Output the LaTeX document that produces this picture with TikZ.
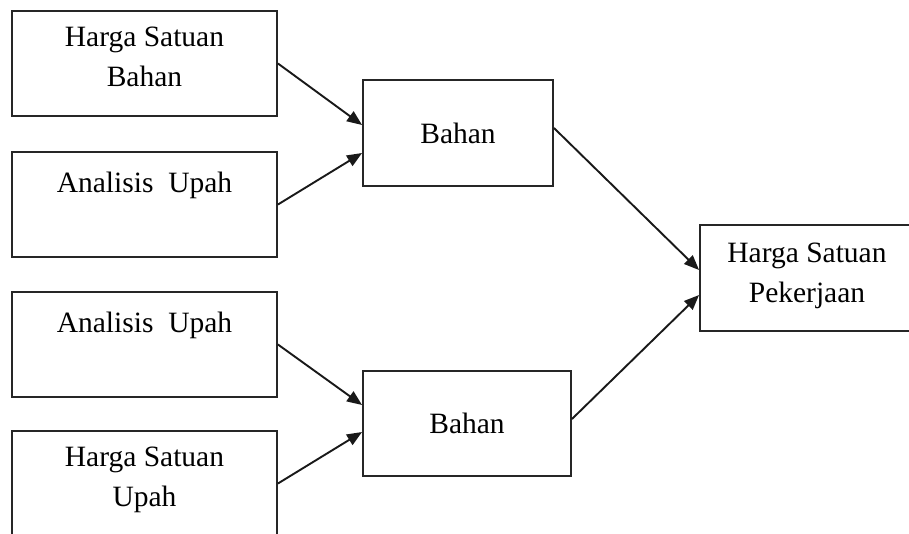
\documentclass[tikz,border=0pt]{standalone}
\usepackage{fontspec}
\setmainfont{Liberation Serif}
\usetikzlibrary{arrows.meta}
\begin{document}
\begin{tikzpicture}[x=1pt,y=-1pt,
  box/.style={draw=black!85, line width=1.9pt, minimum height=105pt, inner sep=0pt, font=\fontsize{29.5}{40}\selectfont},
  lbl/.style={inner sep=0pt, align=center, anchor=north, font=\fontsize{29.5}{40}\selectfont},
  conn/.style={line width=1.9pt, draw=black!90, -{Triangle[length=15pt,width=12pt]}}]
\clip (0,0) rectangle (909,533);
\fill[white] (0,0) rectangle (909,533);
% boxes
\node[box, minimum width=265pt] (b1) at (144.5,63.5) {};
\node[box, minimum width=265pt] (b2) at (144.5,204.5) {};
\node[box, minimum width=265pt] (b3) at (144.5,344.5) {};
\node[box, minimum width=265pt] (b4) at (144.5,483.5) {};
\node[box, minimum width=190pt, minimum height=106pt] (b5) at (458,133) {Bahan};
\node[box, minimum width=208pt] (b6) at (467,423.5) {Bahan};
\node[box, minimum width=214pt, minimum height=106pt] (b7) at (807,278) {};
% labels
\node[lbl] (t1) at ([yshift=-16.5pt]b1.north) {Harga Satuan\\Bahan};
\node[lbl] (t2) at ([yshift=-21pt]b2.north) {Analisis\ \ Upah};
\node[lbl] (t3) at ([yshift=-21pt]b3.north) {Analisis\ \ Upah};
\node[lbl] (t4) at ([yshift=-16.5pt]b4.north) {Harga Satuan\\Upah};
\node[lbl] (t7) at ([yshift=-18.5pt]b7.north) {Harga Satuan\\Pekerjaan};
% connectors
\draw[conn] (b1.east) -- ([yshift=8pt]b5.west);
\draw[conn] (b2.east) -- ([yshift=-20pt]b5.west);
\draw[conn] (b3.east) -- ([yshift=18.5pt]b6.west);
\draw[conn] (b4.east) -- ([yshift=-8.5pt]b6.west);
\draw[conn] ([yshift=5pt]b5.east) -- ([yshift=8pt]b7.west);
\draw[conn] ([yshift=4.5pt]b6.east) -- ([yshift=-17pt]b7.west);
\end{tikzpicture}
\end{document}
